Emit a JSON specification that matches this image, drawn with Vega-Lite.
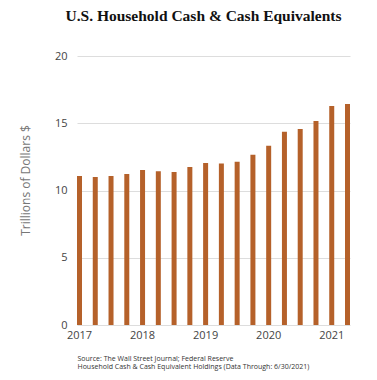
{
  "$schema": "https://vega.github.io/schema/vega-lite/v6.json",
  "autosize": "none",
  "width": 273,
  "height": 269,
  "padding": {"left": 77, "top": 56, "right": 27, "bottom": 55},
  "background": "white",
  "title": {
    "text": "U.S. Household Cash & Cash Equivalents",
    "font": "Liberation Serif",
    "fontSize": 15.5,
    "fontWeight": "bold",
    "color": "#111",
    "anchor": "middle",
    "dx": -10,
    "offset": 26
  },
  "data": {
    "values": [
      {"q": "2017 Q1", "v": 11.07},
      {"q": "2017 Q2", "v": 11.0},
      {"q": "2017 Q3", "v": 11.07},
      {"q": "2017 Q4", "v": 11.22},
      {"q": "2018 Q1", "v": 11.52},
      {"q": "2018 Q2", "v": 11.44},
      {"q": "2018 Q3", "v": 11.37},
      {"q": "2018 Q4", "v": 11.74},
      {"q": "2019 Q1", "v": 12.05},
      {"q": "2019 Q2", "v": 12.0},
      {"q": "2019 Q3", "v": 12.14},
      {"q": "2019 Q4", "v": 12.66},
      {"q": "2020 Q1", "v": 13.33},
      {"q": "2020 Q2", "v": 14.36},
      {"q": "2020 Q3", "v": 14.58},
      {"q": "2020 Q4", "v": 15.17},
      {"q": "2021 Q1", "v": 16.28},
      {"q": "2021 Q2", "v": 16.43}
    ]
  },
  "mark": {"type": "bar", "color": "#b5612a"},
  "encoding": {
    "x": {
      "field": "q",
      "type": "ordinal",
      "sort": null,
      "scale": {"paddingInner": 0.683, "paddingOuter": 0},
      "axis": {
        "labelExpr": "indexof(datum.value, 'Q1') > 0 ? substring(datum.value, 0, 4) : ''",
        "labelAngle": 0,
        "ticks": false,
        "domain": false,
        "labelFont": "Open Sans",
        "labelFontSize": 11,
        "labelColor": "#444",
        "labelPadding": 4,
        "title": ["Source: The Wall Street Journal; Federal Reserve", "Household Cash & Cash Equivalent Holdings (Data Through: 6/30/2021)"],
        "titleFont": "Open Sans",
        "titleFontSize": 7,
        "titleFontWeight": "normal",
        "titleColor": "#333",
        "titleAnchor": "start",
        "titleAlign": "left",
        "titleX": 0,
        "titlePadding": 14,
        "titleLineHeight": 8
      }
    },
    "y": {
      "field": "v",
      "type": "quantitative",
      "scale": {"domain": [0, 20]},
      "axis": {
        "values": [0, 5, 10, 15, 20],
        "ticks": false,
        "domain": false,
        "grid": true,
        "gridColor": "#dddddd",
        "labelFont": "Open Sans",
        "labelFontSize": 11,
        "labelColor": "#444",
        "labelPadding": 10,
        "title": "Trillions of Dollars $",
        "titleFont": "Open Sans",
        "titleFontSize": 12,
        "titleFontWeight": "normal",
        "titleColor": "#777",
        "titlePadding": 22,
        "titleY": 124
      }
    }
  },
  "config": {"view": {"stroke": null}}
}
